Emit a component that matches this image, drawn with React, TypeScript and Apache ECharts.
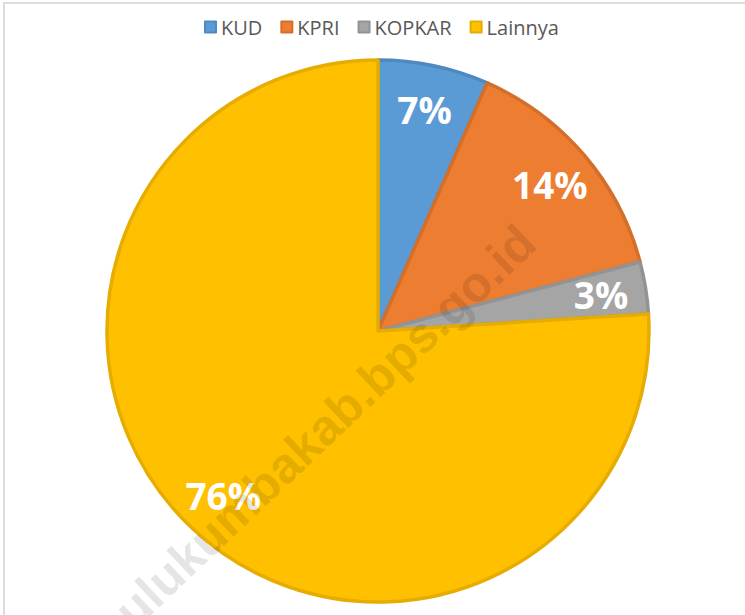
import React, { useEffect, useRef } from "react";
import * as echarts from "echarts";

const categories = ["KUD", "KPRI", "KOPKAR", "Lainnya"];
const shares = [6.6, 14.3, 3.1, 76.0];
const colors = ["#5B9BD5", "#ED7D31", "#A5A5A5", "#FFC000"];
const borderColors = ["#4F89C1", "#D46F2A", "#939393", "#E6AC00"];
const watermark = "bulukumbakab.bps.go.id";

export default function App() {
  const ref = useRef<HTMLDivElement>(null);
  useEffect(() => {
    document.body.style.margin = "0";
    const chart = echarts.init(ref.current!, null, { renderer: "svg" });
    const data = categories.map((name, i) => ({
      name,
      value: shares[i],
      itemStyle: { color: colors[i], borderColor: borderColors[i] },
    }));
    const labelData = categories.map((name, i) => ({
      name,
      value: shares[i],
      itemStyle: { color: "rgba(0,0,0,0)", borderWidth: 0 },
    }));
    chart.setOption({
      animation: false,
      backgroundColor: "#ffffff",
      legend: {
        data: categories,
        left: 204,
        top: 17,
        padding: 0,
        icon: "rect",
        itemWidth: 11,
        itemHeight: 11,
        itemGap: 18,
        selectedMode: false,
        textStyle: { color: "#595959", fontSize: 20, fontFamily: "Open Sans" },
      },
      series: [
        {
          type: "pie",
          center: [378, 331],
          radius: [0, 271],
          startAngle: 90,
          clockwise: true,
          data,
          label: { show: false },
          labelLine: { show: false },
          itemStyle: { borderWidth: 3.5 },
          silent: true,
          emphasis: { disabled: true },
        },
        {
          type: "pie",
          center: [378, 331],
          radius: [175, 271],
          startAngle: 90,
          clockwise: true,
          data: labelData,
          label: {
            show: true,
            position: "inside",
            formatter: (p: any) => Math.round(p.percent) + "%",
            color: "#ffffff",
            fontSize: 37,
            fontWeight: "bold",
            fontFamily: "Open Sans",
            textBorderWidth: 0,
          },
          labelLine: { show: false },
          silent: true,
          emphasis: { disabled: true },
        },
      ],
      graphic: [
        {
          type: "rect",
          shape: { x: 4, y: 3, width: 800, height: 700 },
          style: { fill: "none", stroke: "#dcdcdc", lineWidth: 2 },
          z: 0,
          silent: true,
        },
        {
          type: "text",
          x: 314,
          y: 437,
          rotation: (43.5 * Math.PI) / 180,
          style: {
            text: watermark,
            font: 'bold 50px "Liberation Sans"',
            fill: "rgba(0,0,0,0.1)",
            align: "center",
            verticalAlign: "middle",
          },
          z: 100,
          silent: true,
        },
      ],
    });
    return () => chart.dispose();
  }, []);
  return <div ref={ref} style={{ width: 745, height: 615 }} />;
}
